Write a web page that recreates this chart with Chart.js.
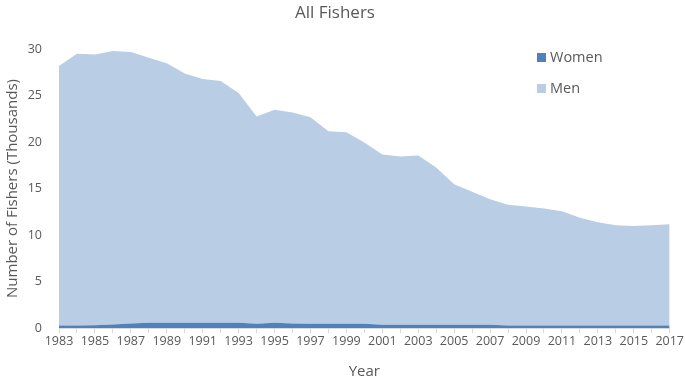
<!DOCTYPE html>
<html>
<head>
<meta charset="utf-8">
<script src="https://cdn.jsdelivr.net/npm/chart.js@4"></script>
<style>
  html, body { margin: 0; padding: 0; background: #fff; }
  #wrap { position: relative; width: 685px; height: 381px; }
  #legend { position: absolute; left: 537px; top: 47px; font-family: "Open Sans", sans-serif; font-size: 14.5px; color: #595959; }
  #legend div { height: 31px; display: flex; align-items: flex-start; }
  #legend span.box { display: inline-block; width: 9px; height: 9px; margin: 6px 4px 0 0; }
</style>
</head>
<body>
<div id="wrap">
  <canvas id="chart" width="685" height="381"></canvas>
  <div id="legend"></div>
</div>
<script>
const years = [
  "1983", "1984", "1985", "1986", "1987", "1988", "1989", "1990", "1991", "1992",
  "1993", "1994", "1995", "1996", "1997", "1998", "1999", "2000", "2001", "2002",
  "2003", "2004", "2005", "2006", "2007", "2008", "2009", "2010", "2011", "2012",
  "2013", "2014", "2015", "2016", "2017"
]

// thousands of fishers
const women = [
  0.28, 0.28, 0.30, 0.38, 0.48, 0.57, 0.57, 0.57, 0.57, 0.57,
  0.57, 0.45, 0.57, 0.48, 0.46, 0.46, 0.46, 0.45, 0.36, 0.35,
  0.35, 0.35, 0.35, 0.35, 0.35, 0.26, 0.26, 0.26, 0.26, 0.26,
  0.26, 0.26, 0.26, 0.26, 0.26
]
const men = [
  27.9, 29.2, 29.1, 29.4, 29.2, 28.5, 27.9, 26.8, 26.2, 26.0,
  24.7, 22.3, 22.9, 22.7, 22.2, 20.7, 20.6, 19.5, 18.3, 18.1,
  18.2, 16.9, 15.1, 14.3, 13.5, 13.0, 12.8, 12.6, 12.3, 11.6,
  11.1, 10.8, 10.7, 10.8, 10.9
]
const yTicks = [0, 5, 10, 15, 20, 25, 30]

const textColor = "#595959"
const font = "'Open Sans', sans-serif"

const series = [
  { label: "Women", data: women, color: "#4f81bd" },
  { label: "Men", data: men, color: "#b9cde5" }
]

const ctx = document.getElementById("chart")

new Chart(ctx, {
  type: "line",
  data: {
    labels: years,
    datasets: series.map((s, i) => ({
      label: s.label,
      data: s.data,
      backgroundColor: s.color,
      borderColor: s.color,
      borderWidth: 0,
      pointRadius: 0,
      tension: 0,
      fill: i == 0 ? "origin" : "-1"
    }))
  },
  options: {
    responsive: false,
    animation: false,
    layout: { padding: { top: 0, right: 15, left: 0, bottom: 0 } },
    plugins: {
      legend: { display: false },
      tooltip: { enabled: false },
      title: {
        display: true,
        text: "All Fishers",
        color: textColor,
        font: { family: font, size: 17, weight: "normal" },
        padding: { top: 3, bottom: 25.6 }
      }
    },
    scales: {
      x: {
        offset: false,
        grid: { drawOnChartArea: false, color: "#d9d9d9", tickLength: 5 },
        border: { color: "#d9d9d9" },
        ticks: {
          autoSkip: false,
          maxRotation: 0,
          color: textColor,
          font: { family: font, size: 12.5 },
          padding: 1,
          callback: function (v, i) { return i % 2 == 0 ? years[i] : "" }
        },
        title: {
          display: true,
          text: "Year",
          color: textColor,
          font: { family: font, size: 15 },
          padding: { top: 6, bottom: 0 }
        },
        afterFit: (scale) => { scale.height = 53 }
      },
      y: {
        stacked: true,
        min: 0,
        max: 30,
        grid: { display: false },
        border: { display: false },
        afterBuildTicks: (scale) => { scale.ticks = yTicks.map(v => ({ value: v })) },
        ticks: {
          color: textColor,
          font: { family: font, size: 12.5 },
          padding: 9
        },
        title: {
          display: true,
          text: "Number of Fishers (Thousands)",
          color: textColor,
          font: { family: font, size: 15 },
          padding: { top: 4, bottom: 6 }
        },
        afterFit: (scale) => { scale.width = 59 }
      }
    }
  }
})

document.getElementById("legend").innerHTML = series.map(s =>
  `<div><span class="box" style="background:${s.color}"></span>${s.label}</div>`
).join("")
</script>
</body>
</html>
